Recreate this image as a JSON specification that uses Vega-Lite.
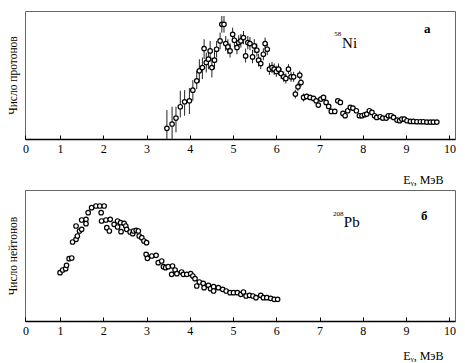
{
  "$schema": "https://vega.github.io/schema/vega-lite/v6.json",
  "padding": {"left": 6, "top": 10, "right": 8, "bottom": 0},
  "spacing": 3,
  "config": {
    "font": "Liberation Serif",
    "view": {"stroke": "#666", "strokeWidth": 1},
    "text": {"color": "#000000", "fill": "#000000"},
    "axis": {"grid": false, "labelFont": "Liberation Serif", "titleFont": "Liberation Serif", "labelColor": "black", "titleColor": "black", "domainColor": "black", "tickColor": "black", "titleFontWeight": "normal"},
    "axisX": {"domainWidth": 1.5, "tickSize": -4, "labelFontSize": 12, "labelPadding": 8, "labelFlush": false, "labelOverlap": false, "titleFontSize": 12, "titleAnchor": "end", "titleAlign": "right", "titleBaseline": "middle", "titleX": 418},
    "axisY": {"labels": false, "ticks": false, "domain": false, "titleFontSize": 11.5, "titlePadding": 7}
  },
  "datasets": {
    "protons": [
      {"E":3.47,"n":32,"lo":0,"hi":87},{"E":3.59,"n":45,"lo":0,"hi":97},{"E":3.68,"n":63,"lo":20,"hi":97},{"E":3.78,"n":97,"lo":65,"hi":145},{"E":3.88,"n":112,"lo":70,"hi":147},{"E":3.99,"n":115,"lo":75,"hi":153},{"E":4.07,"n":147,"lo":115,"hi":177},{"E":4.16,"n":175,"lo":150,"hi":205},{"E":4.22,"n":205,"lo":170,"hi":240},{"E":4.29,"n":215,"lo":180,"hi":245},{"E":4.33,"n":272,"lo":240,"hi":300},{"E":4.38,"n":230,"lo":200,"hi":260},{"E":4.43,"n":240,"lo":210,"hi":270},{"E":4.47,"n":265,"lo":235,"hi":295},{"E":4.51,"n":215,"lo":185,"hi":245},{"E":4.57,"n":237,"lo":210,"hi":265},{"E":4.62,"n":270,"lo":245,"hi":295},{"E":4.70,"n":295,"lo":270,"hi":320},{"E":4.74,"n":345,"lo":320,"hi":370},{"E":4.79,"n":345,"lo":320,"hi":370},{"E":4.83,"n":287,"lo":265,"hi":310},{"E":4.88,"n":277,"lo":255,"hi":300},{"E":4.93,"n":265,"lo":245,"hi":288},{"E":4.99,"n":315,"lo":295,"hi":335},{"E":5.03,"n":297,"lo":277,"hi":318},{"E":5.09,"n":275,"lo":255,"hi":297},{"E":5.13,"n":290,"lo":270,"hi":312},{"E":5.18,"n":295,"lo":275,"hi":316},{"E":5.24,"n":305,"lo":285,"hi":325},{"E":5.29,"n":250,"lo":230,"hi":272},{"E":5.34,"n":290,"lo":270,"hi":310},{"E":5.39,"n":287,"lo":267,"hi":307},{"E":5.45,"n":247,"lo":228,"hi":268},{"E":5.49,"n":280,"lo":260,"hi":300},{"E":5.55,"n":267,"lo":248,"hi":287},{"E":5.59,"n":237,"lo":218,"hi":256},{"E":5.64,"n":227,"lo":210,"hi":245},{"E":5.70,"n":255,"lo":237,"hi":273},{"E":5.74,"n":287,"lo":270,"hi":305},{"E":5.79,"n":270,"lo":252,"hi":288},{"E":5.84,"n":210,"lo":193,"hi":228},{"E":5.90,"n":215,"lo":198,"hi":232},{"E":5.95,"n":210,"lo":193,"hi":227},{"E":6.00,"n":203,"lo":187,"hi":220},{"E":6.05,"n":210,"lo":193,"hi":227},{"E":6.11,"n":197,"lo":181,"hi":213},{"E":6.17,"n":187,"lo":172,"hi":203},{"E":6.22,"n":182,"lo":167,"hi":197},{"E":6.28,"n":210,"lo":195,"hi":225},{"E":6.34,"n":187,"lo":172,"hi":202},{"E":6.40,"n":187,"lo":172,"hi":202},{"E":6.44,"n":135,"lo":122,"hi":148},{"E":6.50,"n":157,"lo":144,"hi":170},{"E":6.54,"n":192,"lo":179,"hi":205},{"E":6.57,"n":170,"lo":158,"hi":182},{"E":6.63,"n":125,"lo":113,"hi":137},{"E":6.70,"n":128,"lo":120,"hi":136},{"E":6.78,"n":125,"lo":118,"hi":132},{"E":6.86,"n":122,"lo":115,"hi":129},{"E":6.92,"n":115,"lo":109,"hi":121},{"E":6.97,"n":102,"lo":97,"hi":107},{"E":7.03,"n":120,"lo":115,"hi":125},{"E":7.09,"n":125,"lo":120,"hi":130},{"E":7.15,"n":110,"lo":105,"hi":115},{"E":7.21,"n":98,"lo":93,"hi":103},{"E":7.27,"n":83,"lo":78,"hi":88},{"E":7.35,"n":83,"lo":78,"hi":88},{"E":7.42,"n":115,"lo":110,"hi":120},{"E":7.48,"n":110,"lo":105,"hi":115},{"E":7.54,"n":77,"lo":72,"hi":82},{"E":7.59,"n":70,"lo":65,"hi":75},{"E":7.65,"n":85,"lo":80,"hi":90},{"E":7.71,"n":95,"lo":90,"hi":100},{"E":7.77,"n":93,"lo":88,"hi":98},{"E":7.85,"n":85,"lo":80,"hi":90},{"E":7.92,"n":70,"lo":65,"hi":75},{"E":7.98,"n":70,"lo":65,"hi":75},{"E":8.04,"n":73,"lo":68,"hi":78},{"E":8.09,"n":75,"lo":70,"hi":80},{"E":8.15,"n":85,"lo":80,"hi":90},{"E":8.21,"n":80,"lo":75,"hi":85},{"E":8.27,"n":70,"lo":65,"hi":75},{"E":8.32,"n":65,"lo":60,"hi":70},{"E":8.40,"n":67,"lo":62,"hi":72},{"E":8.46,"n":63,"lo":58,"hi":68},{"E":8.54,"n":63,"lo":58,"hi":68},{"E":8.59,"n":70,"lo":65,"hi":75},{"E":8.65,"n":70,"lo":65,"hi":75},{"E":8.71,"n":65,"lo":60,"hi":70},{"E":8.79,"n":57,"lo":52,"hi":62},{"E":8.85,"n":55,"lo":50,"hi":60},{"E":8.90,"n":60,"lo":55,"hi":65},{"E":8.96,"n":60,"lo":55,"hi":65},{"E":9.02,"n":55,"lo":50,"hi":60},{"E":9.10,"n":53,"lo":49,"hi":57},{"E":9.17,"n":53,"lo":49,"hi":57},{"E":9.25,"n":52,"lo":48,"hi":56},{"E":9.33,"n":52,"lo":48,"hi":56},{"E":9.40,"n":52,"lo":48,"hi":56},{"E":9.48,"n":51,"lo":47,"hi":55},{"E":9.56,"n":51,"lo":47,"hi":55},{"E":9.63,"n":51,"lo":47,"hi":55},{"E":9.71,"n":51,"lo":47,"hi":55}
    ],
    "neutrons": [
      {"E":1.00,"n":145},{"E":1.06,"n":153},{"E":1.13,"n":157},{"E":1.15,"n":167},{"E":1.21,"n":187},{"E":1.27,"n":189},{"E":1.29,"n":237},{"E":1.37,"n":245},{"E":1.40,"n":255},{"E":1.37,"n":285},{"E":1.45,"n":270},{"E":1.50,"n":303},{"E":1.50,"n":275},{"E":1.60,"n":305},{"E":1.60,"n":292},{"E":1.65,"n":325},{"E":1.73,"n":340},{"E":1.83,"n":345},{"E":1.92,"n":345},{"E":2.02,"n":345},{"E":1.95,"n":325},{"E":1.96,"n":300},{"E":2.06,"n":303},{"E":2.16,"n":305},{"E":2.08,"n":280},{"E":2.14,"n":270},{"E":2.25,"n":290},{"E":2.33,"n":300},{"E":2.33,"n":282},{"E":2.40,"n":295},{"E":2.41,"n":268},{"E":2.48,"n":293},{"E":2.52,"n":285},{"E":2.54,"n":275},{"E":2.62,"n":267},{"E":2.68,"n":262},{"E":2.70,"n":270},{"E":2.76,"n":272},{"E":2.81,"n":270},{"E":2.83,"n":255},{"E":2.89,"n":250},{"E":2.94,"n":240},{"E":3.00,"n":235},{"E":2.99,"n":200},{"E":3.02,"n":188},{"E":3.12,"n":195},{"E":3.22,"n":197},{"E":3.27,"n":175},{"E":3.35,"n":180},{"E":3.39,"n":163},{"E":3.44,"n":160},{"E":3.50,"n":163},{"E":3.60,"n":165},{"E":3.58,"n":140},{"E":3.66,"n":153},{"E":3.70,"n":142},{"E":3.81,"n":147},{"E":3.85,"n":140},{"E":3.93,"n":140},{"E":4.02,"n":142},{"E":4.07,"n":135},{"E":4.12,"n":127},{"E":4.16,"n":105},{"E":4.22,"n":117},{"E":4.31,"n":113},{"E":4.33,"n":100},{"E":4.43,"n":107},{"E":4.48,"n":97},{"E":4.55,"n":103},{"E":4.55,"n":90},{"E":4.66,"n":100},{"E":4.76,"n":95},{"E":4.84,"n":90},{"E":4.93,"n":85},{"E":5.01,"n":85},{"E":5.10,"n":85},{"E":5.18,"n":80},{"E":5.24,"n":87},{"E":5.30,"n":75},{"E":5.38,"n":77},{"E":5.46,"n":75},{"E":5.53,"n":70},{"E":5.64,"n":77},{"E":5.70,"n":70},{"E":5.78,"n":70},{"E":5.87,"n":68},{"E":5.95,"n":65},{"E":6.03,"n":65}
    ]
  },
  "vconcat": [
    {
      "width": 430,
      "height": 128,
      "layer": [
        {
          "data": {"name": "protons"},
          "mark": {"type": "rule", "color": "#222", "strokeWidth": 1},
          "encoding": {
            "x": {"field": "E", "type": "quantitative", "scale": {"domain": [0.19, 10.13], "nice": false, "zero": false},
                  "axis": {"title": "Eᵧ, МэВ", "titleY": 40, "values": [0.2,1,2,3,4,5,6,7,8,9,10], "labelExpr": "datum.value < 0.5 ? '0' : format(datum.value, 'd')"}},
            "y": {"field": "lo", "type": "quantitative", "scale": {"domain": [0, 385], "nice": false}, "axis": {"title": "Число протонов"}},
            "y2": {"field": "hi"}
          }
        },
        {
          "data": {"name": "protons"},
          "mark": {"type": "point", "shape": "circle", "filled": false, "fill": "white", "fillOpacity": 1, "stroke": "black", "strokeWidth": 1.2, "size": 20, "opacity": 1},
          "encoding": {
            "x": {"field": "E", "type": "quantitative"},
            "y": {"field": "n", "type": "quantitative"}
          }
        },
        {
          "data": {"values": [{"E": 7.34, "n": 316, "t": "58"}]},
          "mark": {"type": "text", "fontSize": 7, "align": "left", "baseline": "middle", "color": "#000000"},
          "encoding": {"x": {"field": "E", "type": "quantitative"}, "y": {"field": "n", "type": "quantitative"}, "text": {"field": "t"}}
        },
        {
          "data": {"values": [{"E": 7.52, "n": 289, "t": "Ni"}]},
          "mark": {"type": "text", "fontSize": 15, "align": "left", "baseline": "middle", "color": "#000000"},
          "encoding": {"x": {"field": "E", "type": "quantitative"}, "y": {"field": "n", "type": "quantitative"}, "text": {"field": "t"}}
        },
        {
          "data": {"values": [{"E": 9.49, "n": 331, "t": "а"}]},
          "mark": {"type": "text", "fontSize": 13, "align": "center", "baseline": "middle", "color": "#000000", "fontWeight": "bold"},
          "encoding": {"x": {"field": "E", "type": "quantitative"}, "y": {"field": "n", "type": "quantitative"}, "text": {"field": "t"}}
        }
      ]
    },
    {
      "width": 430,
      "height": 131,
      "layer": [
        {
          "data": {"name": "neutrons"},
          "mark": {"type": "point", "shape": "circle", "filled": false, "fill": "white", "fillOpacity": 1, "stroke": "black", "strokeWidth": 1.2, "size": 20, "opacity": 1},
          "encoding": {
            "x": {"field": "E", "type": "quantitative", "scale": {"domain": [0.19, 10.13], "nice": false, "zero": false},
                  "axis": {"title": "Eᵧ, МэВ", "titleY": 34, "values": [0.2,1,2,3,4,5,6,7,8,9,10], "labelExpr": "datum.value < 0.5 ? '0' : format(datum.value, 'd')"}},
            "y": {"field": "n", "type": "quantitative", "scale": {"domain": [0, 393], "nice": false}, "axis": {"title": "Число нейтонов"}}
          }
        },
        {
          "data": {"values": [{"E": 7.31, "n": 320, "t": "208"}]},
          "mark": {"type": "text", "fontSize": 7, "align": "left", "baseline": "middle", "color": "#000000"},
          "encoding": {"x": {"field": "E", "type": "quantitative"}, "y": {"field": "n", "type": "quantitative"}, "text": {"field": "t"}}
        },
        {
          "data": {"values": [{"E": 7.56, "n": 297, "t": "Pb"}]},
          "mark": {"type": "text", "fontSize": 15, "align": "left", "baseline": "middle", "color": "#000000"},
          "encoding": {"x": {"field": "E", "type": "quantitative"}, "y": {"field": "n", "type": "quantitative"}, "text": {"field": "t"}}
        },
        {
          "data": {"values": [{"E": 9.42, "n": 315, "t": "б"}]},
          "mark": {"type": "text", "fontSize": 13, "align": "center", "baseline": "middle", "color": "#000000", "fontWeight": "bold"},
          "encoding": {"x": {"field": "E", "type": "quantitative"}, "y": {"field": "n", "type": "quantitative"}, "text": {"field": "t"}}
        }
      ]
    }
  ]
}
